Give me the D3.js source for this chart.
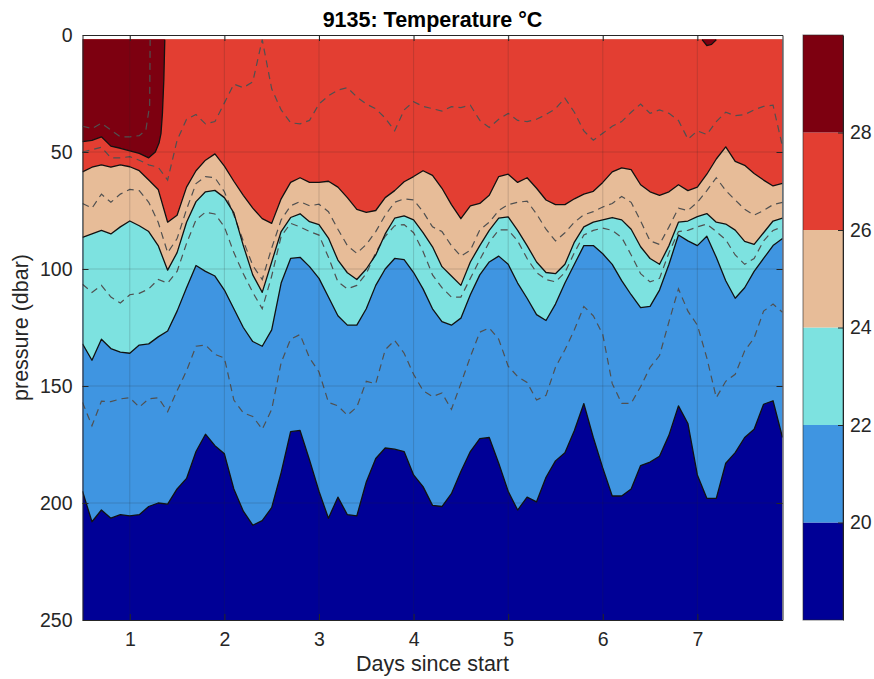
<!DOCTYPE html>
<html>
<head>
<meta charset="utf-8">
<script src="https://cdn.jsdelivr.net/npm/d3@7/dist/d3.min.js"></script>
<style>
  body { margin: 0; background: #fff; }
  svg text { font-family: "Liberation Sans", Helvetica, Arial, sans-serif; }
</style>
</head>
<body>
<svg id="chart" width="874" height="679"></svg>
<script>
'use strict';

// sample times (days since start)
var days = [0.5, 0.6, 0.7, 0.8, 0.9, 1.0, 1.1, 1.2, 1.3, 1.4,
    1.5, 1.6, 1.7, 1.8, 1.9, 2.0, 2.1, 2.2, 2.3, 2.4,
    2.5, 2.6, 2.7, 2.8, 2.9, 3.0, 3.1, 3.2, 3.3, 3.4,
    3.5, 3.6, 3.7, 3.8, 3.9, 4.0, 4.1, 4.2, 4.3, 4.4,
    4.5, 4.6, 4.7, 4.8, 4.9, 5.0, 5.1, 5.2, 5.3, 5.4,
    5.5, 5.6, 5.7, 5.8, 5.9, 6.0, 6.1, 6.2, 6.3, 6.4,
    6.5, 6.6, 6.7, 6.8, 6.9, 7.0, 7.1, 7.2, 7.3, 7.4,
    7.5, 7.6, 7.7, 7.8, 7.9]

// isotherm depths (dbar) at each sample time
var iso20 = [195, 208, 203, 206.5, 205, 205.5, 205, 201.5, 200, 200.5,
    194, 189.5, 178, 170.6, 175.5, 179, 194, 203.5, 209.5, 207.5,
    202, 187, 169.5, 169, 181.6, 195, 206.5, 197.5, 205, 205.5,
    191, 181, 176.5, 177, 178, 188, 193, 201, 201.5, 196,
    186.5, 178, 172.5, 172, 183, 195, 203, 197.5, 199.5, 189,
    182, 178.5, 169, 157.5, 172, 185, 197, 197, 194, 184,
    182.5, 180, 171, 158.5, 166, 188, 198, 198, 183, 178.5,
    172, 168.5, 157.8, 156.3, 172]

var iso21 = [157, 167, 156.5, 156.7, 155.5, 155, 159, 155.5, 155, 161,
    152, 143.5, 133, 132.5, 136.5, 138, 156, 161.5, 163, 168.5,
    160, 140, 130, 128, 138, 144, 157, 158.5, 162.5, 159,
    148, 149, 134.5, 130.5, 136, 145, 152, 154.5, 153, 160,
    149, 137.5, 127, 125.2, 130, 141.5, 146, 148.5, 156, 154,
    142, 134.5, 126, 116, 120, 128, 149, 157.4, 157.4, 150.3,
    142, 137, 122.5, 108.5, 118, 124, 138, 155, 148, 145,
    135, 129.5, 118, 115, 118.5]

var iso22 = [132, 139, 130, 134, 135.5, 136, 132.5, 132, 129, 126.5,
    118, 108, 98.5, 101, 103, 109, 117, 125, 131, 133,
    126, 106, 95.5, 95, 99, 104, 112, 120, 124, 124,
    117, 107, 100, 95.5, 96, 101.5, 108.5, 117, 122.5, 124,
    121, 111, 102.5, 97, 94.5, 98, 106, 112.5, 119.5, 122,
    115, 106, 98, 90, 90, 93.5, 98, 105, 111, 116.5,
    116, 109, 98, 85.5, 88, 90, 86, 95, 105, 112.5,
    108, 101, 95.5, 90, 87]

var iso23 = [106.5, 110, 107, 112, 114.5, 111, 110.4, 108.5, 104.5, 106,
    101, 89, 79, 75.7, 76.5, 82, 93, 102, 110, 117,
    103, 86, 80.5, 82, 84, 85.5, 95, 105.5, 108.5, 107,
    102, 93, 86, 81.5, 81, 84.5, 92.5, 102.5, 108, 112,
    112, 104, 96, 88.5, 83.3, 83.3, 88, 95.5, 101.5, 104.5,
    105.5, 101.5, 93, 85.5, 83.5, 82.5, 83.5, 86.5, 94, 102,
    105.5, 104, 93, 84, 83.5, 82, 80.8, 84, 87.5, 94,
    98, 95.5, 88, 83.5, 82]

var iso24 = [86.5, 85, 83.5, 85, 82, 79.5, 81.5, 84, 90, 100.5,
    93, 80, 71.2, 67, 66.4, 69.5, 76, 90, 102.5, 110,
    97, 84, 78, 76.4, 79.8, 81, 86.8, 96.2, 101.6, 104.5,
    100, 94, 85, 78.3, 77.3, 79, 84.5, 90.5, 99, 103,
    107, 97, 90, 83.5, 78.3, 77.7, 83.5, 90, 97, 101.5,
    102, 98, 88.5, 82, 80, 79, 78, 79, 83, 90.5,
    95.5, 98, 90, 80, 79.5, 77.6, 76.3, 80, 80.8, 83.4,
    88.2, 89.5, 84.5, 79.5, 78.3]

var iso25 = [72, 74, 68, 71.5, 68, 66, 66.5, 71.5, 80, 93,
    87, 74.5, 63.5, 60.5, 61, 67, 77, 88, 98.5, 104.5,
    91, 79, 73, 71.2, 73, 72.3, 75.5, 83, 90, 93.3,
    89.5, 84, 77, 71.5, 70, 70.5, 75.5, 82, 84, 90,
    94.5, 92, 83.3, 80, 75, 72.5, 71.5, 71, 76.5, 83,
    88, 84.5, 80, 76.8, 75.5, 73.5, 72, 69, 71.5, 79.5,
    88, 89.5, 82, 74, 75, 71.5, 66.5, 61, 66.5, 70.5,
    74.5, 77, 75, 72.5, 71.5]

var iso26 = [58.5, 56.5, 55.5, 56.5, 55.5, 56.3, 58, 62, 66, 80,
    77, 65, 58, 53.5, 50.8, 56, 62.5, 68.5, 74, 78.5,
    80.5, 70, 63, 61, 63, 63, 62.5, 65, 69.5, 74.5,
    75.8, 75, 69.5, 66.5, 62.7, 60.5, 58, 60, 65.5, 72.5,
    78.5, 73, 72, 68.5, 60.5, 59.5, 63, 61, 65.5, 70.5,
    72.5, 72.5, 70, 68, 66.8, 63, 58.5, 56.8, 57.5, 64,
    67, 68.5, 67, 64, 66.5, 65, 59.5, 53, 47.8, 54,
    55.7, 59.2, 62, 64.5, 63.4]

var iso27 = [50, 49, 48, 52.5, 52.5, 52, 53.5, 55.5, 56.5, 62,
    45, 36, 34, 38, 37, 29, 21, 22.5, 20, 2,
    23, 32, 37.5, 38, 36.5, 29.5, 26, 23.5, 22.5, 26.5,
    29.5, 31.5, 35.5, 41, 32, 28.5, 30.5, 31.5, 32.5, 30.6,
    31, 30, 36.5, 39.5, 36, 33.5, 36.5, 37, 36, 34,
    31.5, 27, 33, 41, 45, 42, 39, 37, 33, 29.5,
    33.5, 32, 33.5, 36.5, 44.5, 41, 42.5, 37, 33, 34.5,
    34, 32, 30.5, 30, 47.7]

// the warm water near the surface only covers part of the record
var days28 = [0.5, 0.6, 0.7, 0.8, 0.9, 1.0, 1.1, 1.2, 1.27, 1.31, 1.33, 1.345, 1.36, 1.37,
    null, 7.05, 7.1, 7.15, 7.2]
var iso28 = [45.6, 45, 43.5, 47.5, 48.4, 49.5, 50.6, 52.5, 50, 46, 42, 33.5, 19, 2,
    null, 2, 4.5, 4, 2]
var days29 = [0.5, 0.6, 0.7, 0.8, 0.9, 1.0, 1.1, 1.17, 1.21, 1.215]
var iso29 = [39, 40, 37.7, 40.6, 43.5, 43.5, 43, 40.6, 30, 2]

var levels = [18, 20, 22, 24, 26, 28, 30]
var bandColors = ['#000096', '#3f95e1', '#7de2e0', '#e7bc98', '#e33e32', '#7d0010']
var dayTicks = [1, 2, 3, 4, 5, 6, 7]
var pressureTicks = [0, 50, 100, 150, 200, 250]
var cbarTicks = [20, 22, 24, 26, 28]

var svg = d3.select('#chart')
var margin = {left: 82.5, right: 782.5, top: 35, bottom: 620}
var pTop = 1.8
var axisColor = '#262626'

var x = d3.scaleLinear().domain([0.5, 7.9]).range([margin.left, margin.right])
var y = d3.scaleLinear().domain([0, 250]).range([margin.top, margin.bottom])

svg.append('clipPath').attr('id', 'plotclip')
  .append('rect')
    .attr('x', margin.left).attr('y', margin.top)
    .attr('width', margin.right - margin.left)
    .attr('height', margin.bottom - margin.top)

var plot = svg.append('g').attr('clip-path', 'url(#plotclip)')

function rows(ts, ps) {
    return ts.map(function(t, i) { return {d: t, p: ps[i]} })
}

var area = d3.area()
    .defined(function(d) { return d.p != null })
    .x(function(d) { return x(d.d) })
    .y0(y(pTop))
    .y1(function(d) { return y(d.p) })

var line = d3.line()
    .defined(function(d) { return d.p != null })
    .x(function(d) { return x(d.d) })
    .y(function(d) { return y(d.p) })

// coldest band fills everything below the 20 isotherm
plot.append('rect')
    .attr('x', x(0.5)).attr('y', y(pTop))
    .attr('width', x(7.9) - x(0.5))
    .attr('height', y(250) - y(pTop))
    .style('fill', bandColors[0])

var fills = [
    {ps: iso20, ts: days, c: bandColors[1]},
    {ps: iso22, ts: days, c: bandColors[2]},
    {ps: iso24, ts: days, c: bandColors[3]},
    {ps: iso26, ts: days, c: bandColors[4]},
    {ps: iso28, ts: days28, c: bandColors[5]}
]
fills.forEach(function(f) {
    plot.append('path')
        .datum(rows(f.ts, f.ps))
        .attr('d', area)
        .style('fill', f.c)
})

// dashed odd isotherms
var dashed = [
    {ps: iso21, ts: days}, {ps: iso23, ts: days}, {ps: iso25, ts: days},
    {ps: iso27, ts: days}, {ps: iso29, ts: days29}
]
dashed.forEach(function(f) {
    plot.append('path')
        .datum(rows(f.ts, f.ps))
        .attr('d', line)
        .style('fill', 'none')
        .style('stroke', '#505050')
        .style('stroke-width', 1.2)
        .style('stroke-dasharray', '7,5')
})

var solid = [
    {ps: iso20, ts: days}, {ps: iso22, ts: days}, {ps: iso24, ts: days},
    {ps: iso26, ts: days}, {ps: iso28, ts: days28}
]
solid.forEach(function(f) {
    plot.append('path')
        .datum(rows(f.ts, f.ps))
        .attr('d', line)
        .style('fill', 'none')
        .style('stroke', '#111')
        .style('stroke-width', 1.3)
        .style('stroke-linejoin', 'round')
})

// grid on top
var grid = svg.append('g').style('stroke', axisColor).style('stroke-opacity', 0.18)
grid.selectAll('.vg').data(dayTicks).enter().append('line')
    .attr('x1', function(d) { return x(d) }).attr('x2', function(d) { return x(d) })
    .attr('y1', margin.top).attr('y2', margin.bottom)
grid.selectAll('.hg').data(pressureTicks.slice(1, -1)).enter().append('line')
    .attr('x1', margin.left).attr('x2', margin.right)
    .attr('y1', function(d) { return y(d) }).attr('y2', function(d) { return y(d) })

function styleAxis(g) {
    g.selectAll('path, line').style('stroke', axisColor)
    g.selectAll('text').style('fill', axisColor).style('font-size', '19.5px')
}

svg.append('g')
    .attr('transform', 'translate(' + margin.left + ',0)')
    .call(d3.axisLeft(y).tickValues(pressureTicks).tickSizeInner(-6).tickSizeOuter(0).tickPadding(10))
    .call(styleAxis)
svg.append('g')
    .attr('transform', 'translate(0,' + margin.bottom + ')')
    .call(d3.axisBottom(x).tickValues(dayTicks).tickSizeInner(-6).tickSizeOuter(0).tickPadding(12).tickFormat(d3.format('d')))
    .call(styleAxis)
svg.append('g')
    .attr('transform', 'translate(0,' + margin.top + ')')
    .call(d3.axisTop(x).tickValues(dayTicks).tickSizeInner(-6).tickSizeOuter(0).tickFormat(''))
    .call(styleAxis)
svg.append('g')
    .attr('transform', 'translate(' + margin.right + ',0)')
    .call(d3.axisRight(y).tickValues(pressureTicks).tickSizeInner(-6).tickSizeOuter(0).tickFormat(''))
    .call(styleAxis)

svg.append('text')
    .attr('x', (margin.left + margin.right) / 2).attr('y', 27)
    .attr('text-anchor', 'middle')
    .style('font-size', '21.5px').style('font-weight', 'bold').style('fill', '#000')
    .text('9135: Temperature °C')

svg.append('text')
    .attr('x', (margin.left + margin.right) / 2).attr('y', 671)
    .attr('text-anchor', 'middle')
    .style('font-size', '21.5px').style('fill', axisColor)
    .text('Days since start')

svg.append('text')
    .attr('transform', 'translate(28,' + (margin.top + margin.bottom) / 2 + ') rotate(-90)')
    .attr('text-anchor', 'middle')
    .style('font-size', '21.5px').style('fill', axisColor)
    .text('pressure (dbar)')

// colorbar
var cb = {x0: 803, x1: 843}
var cy = d3.scaleLinear().domain([18, 30]).range([margin.bottom, margin.top])
var cbar = svg.append('g')
cbar.selectAll('rect').data(bandColors).enter().append('rect')
    .attr('x', cb.x0)
    .attr('y', function(d, i) { return cy(levels[i + 1]) })
    .attr('width', cb.x1 - cb.x0)
    .attr('height', function(d, i) { return cy(levels[i]) - cy(levels[i + 1]) })
    .style('fill', function(d) { return d })
cbar.append('g')
    .attr('transform', 'translate(' + cb.x1 + ',0)')
    .call(d3.axisRight(cy).tickValues(cbarTicks).tickSizeInner(-5).tickSizeOuter(0).tickPadding(7))
    .call(styleAxis)
cbar.append('rect')
    .attr('x', cb.x0).attr('y', margin.top)
    .attr('width', cb.x1 - cb.x0).attr('height', margin.bottom - margin.top)
    .style('fill', 'none').style('stroke', axisColor).style('stroke-opacity', 0.6)
</script>
</body>
</html>
